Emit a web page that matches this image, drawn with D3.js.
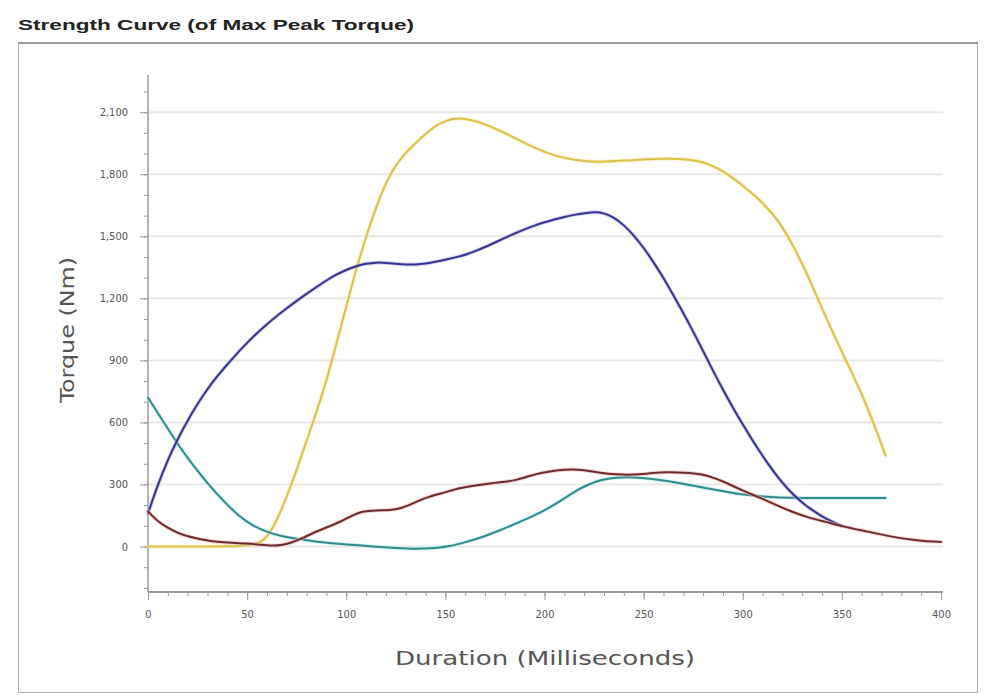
<!DOCTYPE html>
<html><head><meta charset="utf-8">
<script src="https://cdn.jsdelivr.net/npm/d3@7"></script>
<style>body{margin:0;background:#fff;} svg{display:block;}</style>
</head><body>
<svg id="chart" width="990" height="695"></svg>
<script>
const chartTitle = "Strength Curve (of Max Peak Torque)";
const xTitle = "Duration (Milliseconds)";
const yTitle = "Torque (Nm)";
const xTicks = [0,50,100,150,200,250,300,350,400];
const yTicks = [0,300,600,900,1200,1500,1800,2100];

const yellowSeries = [[0,0],[20,0],[40,0],[52,5],[58,25],[62,70],[66,150],[70,240],[75,370],[80,510],[85,650],[90,800],[95,980],[100,1160],[105,1340],[110,1500],[115,1640],[120,1760],[125,1845],[130,1905],[135,1950],[140,1995],[145,2035],[150,2060],[157,2075],[165,2058],[172,2035],[180,2000],[188,1960],[195,1928],[202,1900],[210,1878],[220,1862],[230,1860],[240,1866],[250,1872],[260,1876],[268,1875],[275,1868],[280,1858],[285,1840],[290,1815],[295,1782],[300,1745],[305,1705],[310,1662],[315,1610],[320,1545],[325,1462],[330,1368],[335,1262],[340,1150],[345,1045],[350,940],[355,842],[360,738],[365,622],[370,494],[372,440]];
const blueSeries = [[0,160],[5,300],[10,420],[15,520],[20,610],[25,690],[30,762],[35,825],[40,880],[45,935],[50,985],[55,1032],[60,1075],[65,1115],[70,1152],[75,1188],[80,1222],[85,1255],[90,1287],[95,1315],[100,1338],[105,1356],[110,1368],[115,1374],[120,1372],[125,1367],[130,1363],[135,1363],[140,1368],[145,1376],[150,1387],[155,1398],[160,1410],[165,1428],[170,1448],[175,1470],[180,1492],[185,1514],[190,1534],[195,1552],[200,1568],[205,1582],[210,1594],[215,1604],[220,1612],[226,1618],[230,1612],[235,1592],[240,1555],[245,1505],[250,1445],[255,1375],[260,1300],[265,1215],[270,1130],[275,1040],[280,945],[285,850],[290,758],[295,672],[300,590],[305,512],[310,438],[315,370],[320,307],[325,255],[330,212],[335,176],[340,145],[345,120],[350,100]];
const cyanSeries = [[0,720],[8,600],[16,480],[23,390],[30,305],[38,220],[46,145],[53,100],[60,70],[67,50],[73,40],[82,28],[90,18],[100,10],[114,0],[125,-8],[135,-13],[145,-8],[152,0],[160,20],[169,46],[178,80],[186,113],[195,150],[203,190],[210,232],[216,270],[222,300],[228,322],[236,335],[245,336],[256,325],[268,307],[278,288],[290,268],[300,250],[312,240],[325,235],[340,235],[355,235],[372,235]];
const redSeries = [[0,170],[5,120],[10,90],[15,65],[21,46],[28,32],[35,22],[42,18],[50,15],[57,8],[63,3],[68,8],[72,17],[78,40],[83,65],[90,92],[97,119],[103,150],[108,170],[115,176],[122,174],[128,185],[134,210],[141,240],[150,262],[157,283],[165,295],[174,307],[180,312],[186,322],[192,340],[198,356],[206,368],[214,375],[221,368],[228,356],[236,348],[245,346],[253,354],[262,360],[270,358],[280,350],[286,330],[292,307],[300,270],[309,235],[317,200],[325,167],[333,140],[342,119],[350,98],[359,80],[368,62],[376,46],[385,33],[393,25],[400,22]];

const series = [
  {data: yellowSeries, color: "#dcc04a", halo: "#f6eab0"},
  {data: cyanSeries, color: "#2f8a8a", halo: "#bdeeee"},
  {data: blueSeries, color: "#34348e", halo: "#b8b8e6"},
  {data: redSeries, color: "#6e2a2a", halo: "#f0c0c0"}
];

const svg = d3.select("#chart");
const font = "Tahoma, 'DejaVu Sans Condensed', 'DejaVu Sans', sans-serif";

// title
svg.append("text").attr("x", 18).attr("y", 30)
  .attr("font-family", "'Liberation Sans', Arial, sans-serif").attr("font-weight", "bold")
  .attr("font-size", 15).attr("fill", "#222")
  .attr("textLength", 396).attr("lengthAdjust", "spacingAndGlyphs")
  .text(chartTitle);

// frame
svg.append("rect").attr("x", 18.5).attr("y", 42.5).attr("width", 959).attr("height", 650)
  .attr("fill", "#fff").attr("stroke", "#b0b0b0").attr("stroke-width", 1);
svg.append("line").attr("x1", 18).attr("x2", 978).attr("y1", 43).attr("y2", 43)
  .attr("stroke", "#999").attr("stroke-width", 2);

const x = d3.scaleLinear().domain([0, 400]).range([148, 941]);
const y = d3.scaleLinear().domain([-220, 2280]).range([592, 75]);

// gridlines
svg.append("g").selectAll("line").data(yTicks).join("line")
  .attr("x1", 149).attr("x2", 943)
  .attr("y1", d => y(d)).attr("y2", d => y(d))
  .attr("stroke", "#e8e8e8").attr("stroke-width", 2);

// y axis
const yMinor = d3.range(-200, 2300, 100);
const yAxisG = svg.append("g").attr("transform", "translate(148,0)");
yAxisG.call(d3.axisLeft(y).tickValues(yMinor).tickSize(4).tickFormat(""));
yAxisG.append("g").call(d3.axisLeft(y).tickValues(yTicks).tickSize(8).tickPadding(12).tickFormat(d3.format(",")));
yAxisG.selectAll("path").attr("stroke", "#9a9a9a").attr("d", `M0,${y.range()[1]}V${y.range()[0]}`);
yAxisG.selectAll("line").attr("stroke", "#9a9a9a");
yAxisG.selectAll("text").attr("font-family", font).attr("font-size", 11).attr("fill", "#555");

// x axis
const xMinor = d3.range(0, 401, 10);
const xAxisG = svg.append("g").attr("transform", "translate(0,592)");
xAxisG.call(d3.axisBottom(x).tickValues(xMinor).tickSize(4).tickFormat(""));
xAxisG.append("g").call(d3.axisBottom(x).tickValues(xTicks).tickSize(8).tickPadding(10).tickFormat(d3.format("d")));
xAxisG.selectAll("path").attr("stroke", "#9a9a9a").attr("stroke-width", 2).attr("d", `M${x.range()[0]},0H943`);
xAxisG.selectAll("line").attr("stroke", "#9a9a9a");
xAxisG.selectAll("text").attr("font-family", font).attr("font-size", 11).attr("fill", "#555");

// axis titles
svg.append("text").attr("x", 545).attr("y", 665).attr("text-anchor", "middle")
  .attr("font-family", font).attr("font-size", 19).attr("fill", "#555")
  .attr("textLength", 300).attr("lengthAdjust", "spacingAndGlyphs")
  .text(xTitle);
svg.append("text").attr("transform", "translate(74,330) rotate(-90)").attr("text-anchor", "middle")
  .attr("font-family", font).attr("font-size", 19).attr("fill", "#555")
  .attr("textLength", 146).attr("lengthAdjust", "spacingAndGlyphs")
  .text(yTitle);

// lines
const line = d3.line().x(d => x(d[0])).y(d => y(d[1])).curve(d3.curveBasis);
const lg = svg.append("g");
series.forEach(s => {
  lg.append("path").attr("d", line(s.data)).attr("fill", "none")
    .attr("stroke", s.halo).attr("stroke-width", 4).attr("stroke-opacity", 0.6)
    .attr("stroke-linejoin", "round").attr("stroke-linecap", "round");
  lg.append("path").attr("d", line(s.data)).attr("fill", "none")
    .attr("stroke", s.color).attr("stroke-width", 2)
    .attr("stroke-linejoin", "round").attr("stroke-linecap", "round");
});
</script>
</body></html>
